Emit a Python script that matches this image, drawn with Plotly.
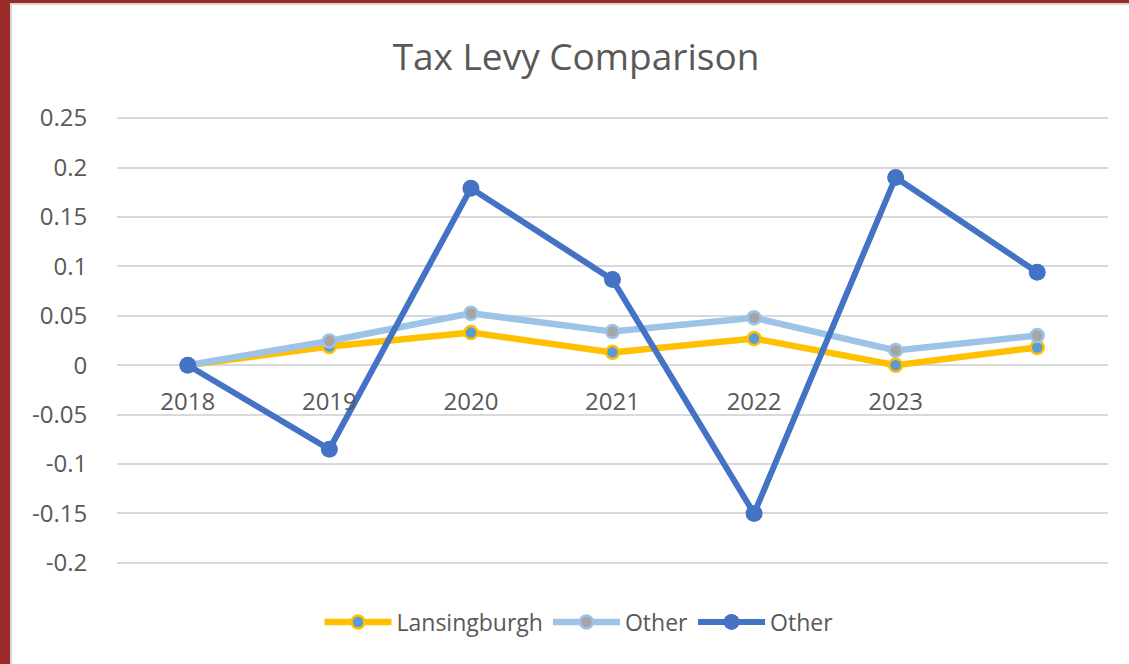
import plotly.graph_objects as go

categories = ["2018", "2019", "2020", "2021", "2022", "2023", ""]
lansingburgh = [0.0, 0.019, 0.033, 0.013, 0.027, 0.0, 0.018]
other_light = [0.0, 0.0245, 0.0525, 0.034, 0.048, 0.015, 0.030]
other_dark = [0.0, -0.085, 0.179, 0.0866, -0.150, 0.190, 0.094]
y_tickvals = [-0.2, -0.15, -0.1, -0.05, 0, 0.05, 0.1, 0.15, 0.2, 0.25]
y_ticktext = ["-0.2", "-0.15", "-0.1", "-0.05", "0", "0.05", "0.1", "0.15", "0.2", "0.25"]

xpos = list(range(len(categories)))
FONT = "Open Sans, Carlito, Calibri, sans-serif"
GRAY_TXT = "#595959"

fig = go.Figure()
fig.add_trace(go.Scatter(
    x=xpos, y=lansingburgh, name="Lansingburgh", mode="lines+markers", legendgroup="a",
    line=dict(color="#FFC000", width=6.5),
    marker=dict(size=13, color="#5B9BD5", line=dict(color="#FFC000", width=2.5)),
))
fig.add_trace(go.Scatter(
    x=xpos, y=other_light, name="Other", mode="lines+markers", legendgroup="b",
    line=dict(color="#9DC3E6", width=6.5),
    marker=dict(size=13, color="#A5A5A5", line=dict(color="#9DC3E6", width=2.5)),
))
fig.add_trace(go.Scatter(
    x=xpos, y=other_dark, name="Other", mode="lines+markers", legendgroup="c",
    line=dict(color="#4472C4", width=6),
    marker=dict(size=17, color="#4472C4"),
))

L, R, T, B = 117, 21, 117, 100
W, H = 1129, 664
pw = W - L - R
ph = H - T - B

shapes = [
    dict(type="rect", xref="paper", yref="paper", layer="below",
         x0=-L / pw, x1=-(L - 10) / pw, y0=-B / ph, y1=1 + T / ph,
         fillcolor="#9B2B2B", line=dict(width=0)),
    dict(type="rect", xref="paper", yref="paper", layer="below",
         x0=-L / pw, x1=1 + R / pw, y0=1 + (T - 3) / ph, y1=1 + T / ph,
         fillcolor="#9B2B2B", line=dict(width=0)),
    dict(type="rect", xref="paper", yref="paper", layer="below",
         x0=-(L - 10) / pw, x1=-(L - 12) / pw, y0=-B / ph, y1=1 + (T - 3) / ph,
         fillcolor="#D6D6D6", line=dict(width=0)),
    dict(type="rect", xref="paper", yref="paper", layer="below",
         x0=-(L - 10) / pw, x1=1 + R / pw, y0=1 + (T - 5) / ph, y1=1 + (T - 3) / ph,
         fillcolor="#D6D6D6", line=dict(width=0)),
]

ymin, ymax = -0.2011, 0.2511
fig.update_layout(
    width=W, height=H,
    margin=dict(l=L, r=R, t=T, b=B),
    paper_bgcolor="white", plot_bgcolor="white",
    font=dict(family=FONT, color=GRAY_TXT),
    title=dict(text="Tax Levy Comparison", x=(576 - L) / pw, xref="paper", xanchor="center",
               y=1 - 57 / H, yanchor="middle", font=dict(size=37, color=GRAY_TXT)),
    xaxis=dict(
        range=[-0.5, len(categories) - 0.5],
        tickvals=xpos, ticktext=categories,
        anchor="free", position=(0 - ymin) / (ymax - ymin),
        showgrid=False, zeroline=False, showline=False,
        ticks="outside", ticklen=15, tickcolor="rgba(0,0,0,0)",
        tickfont=dict(size=24, color=GRAY_TXT),
    ),
    yaxis=dict(
        range=[ymin, ymax],
        tickvals=y_tickvals, ticktext=y_ticktext,
        showgrid=True, gridcolor="#D9D9D9", gridwidth=2,
        zeroline=True, zerolinecolor="#D9D9D9", zerolinewidth=2,
        showline=False,
        ticks="outside", ticklen=24, tickcolor="rgba(0,0,0,0)",
        tickfont=dict(size=24, color=GRAY_TXT),
    ),
    showlegend=True,
    legend=dict(orientation="h", x=(579 - L) / pw, xanchor="center",
                y=-(622 - (H - B)) / ph, yanchor="middle",
                traceorder="grouped", tracegroupgap=26,
                font=dict(size=23, color=GRAY_TXT), itemwidth=67,
                bgcolor="rgba(0,0,0,0)"),
    shapes=shapes,
)

fig.write_html("out.html", config={"displayModeBar": False},
               post_script="document.body.style.margin='0';")
